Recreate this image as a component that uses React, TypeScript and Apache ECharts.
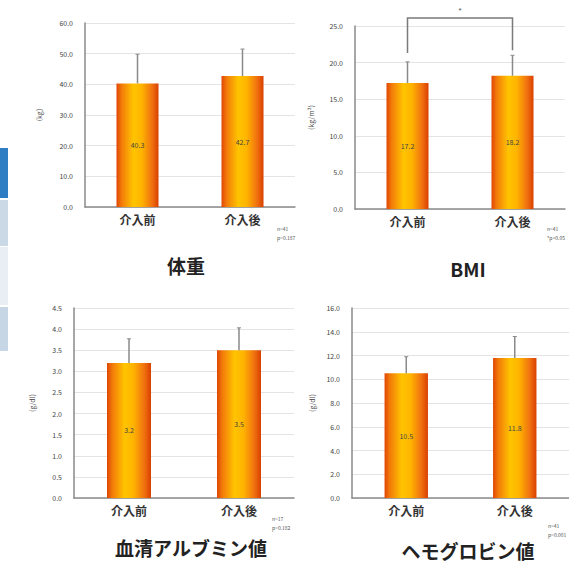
import React, { useEffect, useRef } from "react";
import * as echarts from "echarts";

const categories = ["介入前", "介入後"];

const weightMean = [40.3, 42.7];
const weightSD = [9.5, 8.8];
const bmiMean = [17.2, 18.2];
const bmiSD = [2.9, 2.8];
const albMean = [3.2, 3.5];
const albSD = [0.57, 0.53];
const hbMean = [10.5, 11.8];
const hbSD = [1.4, 1.8];

const yMax = [60, 25, 4.5, 16];
const yInterval = [10, 5, 0.5, 2];
const yNames = ["(kg)", "(kg/m²)", "(g/dl)", "(g/dl)"];
const titles = ["体重", "BMI", "血清アルブミン値", "ヘモグロビン値"];
const notes = [
  ["n=41", "p=0.187"],
  ["n=41", "*p<0.05"],
  ["n=17", "p=0.182"],
  ["n=41", "p=0.001"],
];

// BMI significance bracket: [left end value, right end value, top value]
const bmiBracket = [21.3, 21.7, 26.1];
const bmiStar = "*";

const FONT = '"Noto Sans CJK JP", "Noto Sans", sans-serif';

export default function App() {
  const ref = useRef<HTMLDivElement>(null);
  useEffect(() => {
    if (!ref.current) return;
    const chart = echarts.init(ref.current, null, { renderer: "svg" });

    const grids = [
      { left: 85, top: 23, width: 210, height: 184 },
      { left: 355, top: 26, width: 210, height: 183 },
      { left: 74, top: 308, width: 220, height: 190 },
      { left: 352, top: 308, width: 220, height: 190 },
    ];
    const nameGaps = [43, 41, 39, 37];
    const means = [weightMean, bmiMean, albMean, hbMean];
    const sds = [weightSD, bmiSD, albSD, hbSD];

    const barColor = new echarts.graphic.LinearGradient(0, 0, 1, 0, [
      { offset: 0, color: "#e04604" },
      { offset: 0.12, color: "#f27a0a" },
      { offset: 0.4, color: "#ffc400" },
      { offset: 0.6, color: "#ffb400" },
      { offset: 0.85, color: "#f07010" },
      { offset: 1, color: "#d84000" },
    ]);

    const xAxis = grids.map((_, i) => ({
      type: "category",
      gridIndex: i,
      data: categories,
      axisLine: { lineStyle: { color: "#8a8a8a", width: 1.5 } },
      axisTick: { show: false },
      axisLabel: {
        fontSize: 12,
        fontWeight: "bold",
        color: "#333",
        fontFamily: FONT,
        margin: 6,
      },
    }));
    const yAxis = grids.map((_, i) => ({
      type: "value",
      gridIndex: i,
      min: 0,
      max: yMax[i],
      interval: yInterval[i],
      name: yNames[i],
      nameLocation: "middle",
      nameRotate: 90,
      nameGap: nameGaps[i],
      nameTextStyle: { fontSize: 7, color: "#444", fontFamily: FONT },
      axisLine: { show: true, lineStyle: { color: "#8a8a8a", width: 1.5 } },
      axisTick: { show: false },
      axisLabel: {
        fontSize: 7,
        color: "#444",
        margin: 12,
        fontFamily: FONT,
        formatter: (v: number) => v.toFixed(1),
      },
      splitLine: { lineStyle: { color: "#e4e4e4", width: 1 } },
    }));

    const series: any[] = [];
    grids.forEach((_, i) => {
      series.push({
        type: "bar",
        xAxisIndex: i,
        yAxisIndex: i,
        data: means[i],
        barWidth: "40%",
        itemStyle: { color: barColor },
        label: {
          show: true,
          position: "inside",
          fontSize: 7,
          color: "#444",
          fontFamily: FONT,
          formatter: (p: any) => Number(p.value).toFixed(1),
        },
      });
      series.push({
        type: "custom",
        xAxisIndex: i,
        yAxisIndex: i,
        z: 5,
        clip: false,
        data: means[i].map((m, k) => [k, m, sds[i][k]]),
        encode: { x: 0, y: 1 },
        renderItem: (params: any, api: any) => {
          const x = api.value(0);
          const m = api.value(1);
          const s = api.value(2);
          const p0 = api.coord([x, m]);
          const p1 = api.coord([x, m + s]);
          return {
            type: "group",
            children: [
              {
                type: "line",
                shape: { x1: p0[0], y1: p0[1], x2: p1[0], y2: p1[1] },
                style: { stroke: "#8a8a8a", lineWidth: 1.5 },
              },
              {
                type: "line",
                shape: { x1: p1[0] - 2, y1: p1[1], x2: p1[0] + 2, y2: p1[1] },
                style: { stroke: "#8a8a8a", lineWidth: 1 },
              },
            ],
          };
        },
      });
    });

    // significance bracket in BMI panel
    series.push({
      type: "custom",
      xAxisIndex: 1,
      yAxisIndex: 1,
      z: 6,
      clip: false,
      data: [[0, bmiBracket[0], 1, bmiBracket[1], bmiBracket[2]]],
      encode: { x: 0, y: 1 },
      renderItem: (params: any, api: any) => {
        const a = api.coord([api.value(0), api.value(1)]);
        const b = api.coord([api.value(2), api.value(3)]);
        const ta = api.coord([api.value(0), api.value(4)]);
        const tb = api.coord([api.value(2), api.value(4)]);
        return {
          type: "group",
          children: [
            {
              type: "polyline",
              shape: { points: [a, ta, tb, b] },
              style: { stroke: "#7a7a7a", lineWidth: 1.5, fill: "none" },
            },
            {
              type: "text",
              style: {
                text: bmiStar,
                x: (ta[0] + tb[0]) / 2,
                y: ta[1] - 3,
                align: "center",
                verticalAlign: "bottom",
                fontSize: 8,
                fill: "#555",
              },
            },
          ],
        };
      },
    });

    const titlePos = [
      [186, 265],
      [468, 268],
      [191, 547],
      [468, 550],
    ];
    const notePos = [
      [277, 228],
      [547, 228],
      [272, 518],
      [548, 525],
    ];

    const graphic: any[] = [];
    titles.forEach((t, i) => {
      graphic.push({
        type: "text",
        x: titlePos[i][0],
        y: titlePos[i][1],
        style: {
          text: t,
          align: "center",
          verticalAlign: "middle",
          fontSize: 19,
          fontWeight: "bold",
          fill: "#222",
          fontFamily: FONT,
        },
      });
      notes[i].forEach((n, k) => {
        graphic.push({
          type: "text",
          x: notePos[i][0],
          y: notePos[i][1] + k * 9,
          style: {
            text: n,
            align: "left",
            verticalAlign: "middle",
            fontSize: 5,
            fill: "#555",
            fontFamily: FONT,
          },
        });
      });
    });
    // cropped table fragment at the left edge
    const boxes = [
      [148, 50, "#2f7dc2"],
      [200, 46, "#cbd9e6"],
      [247, 58, "#e9eef4"],
      [307, 44, "#c7d6e4"],
    ];
    boxes.forEach((b) => {
      graphic.push({
        type: "rect",
        shape: { x: 0, y: b[0] as number, width: 8, height: b[1] as number },
        style: { fill: b[2] as string },
      });
    });

    chart.setOption({
      animation: false,
      backgroundColor: "#ffffff",
      grid: grids,
      xAxis,
      yAxis,
      series,
      graphic,
    });
    return () => chart.dispose();
  }, []);

  return (
    <div
      ref={ref}
      style={{ position: "fixed", left: 0, top: 0, width: 569, height: 562 }}
    />
  );
}
